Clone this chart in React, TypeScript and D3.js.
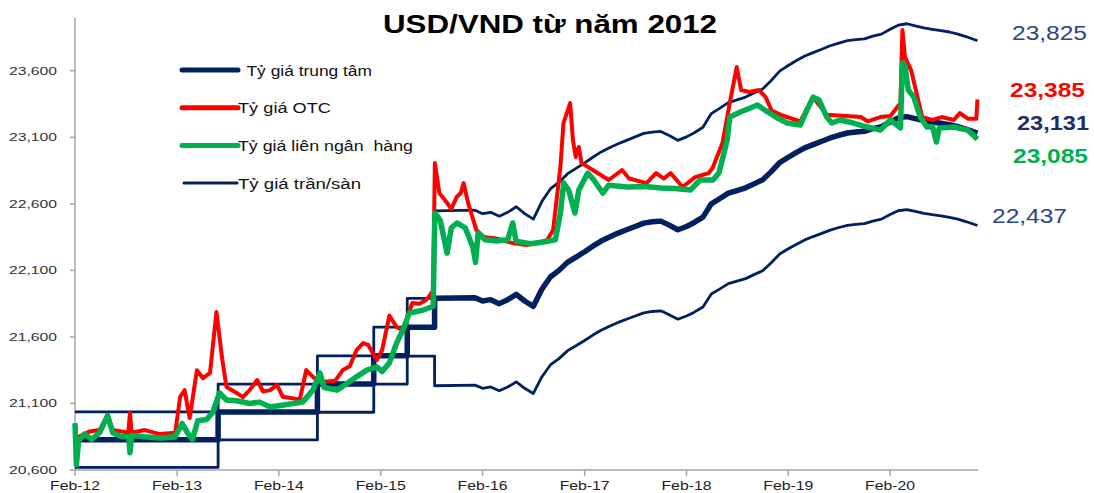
import React from "react";
import * as d3 from "d3";

const W = 1094;
const H = 493;
const parse = d3.timeParse("%Y-%m-%d");

// official rate steps before the daily mechanism (2012 - Aug 2015)
const stepDates = ["2012-02-01", "2013-06-28", "2014-06-19", "2015-01-07", "2015-05-07", "2015-08-13"];
const stepCentral = [20828, 21036, 21246, 21458, 21673, 21890];
const stepCeiling = [21036, 21246, 21458, 21673, 21890, 22547];
const stepFloor = [20620, 20826, 21034, 21246, 21456, 21233];

// daily central rate from 2016 (read roughly month by month)
const dailyDates = [
  "2016-01-05", "2016-02-01", "2016-03-01", "2016-04-01", "2016-05-01", "2016-06-01", "2016-07-01", "2016-08-01",
  "2016-09-01", "2016-10-01", "2016-11-01", "2016-12-01", "2017-01-01", "2017-02-01", "2017-03-01", "2017-04-01",
  "2017-05-01", "2017-06-01", "2017-07-01", "2017-08-01", "2017-09-01", "2017-10-01", "2017-11-01", "2017-12-01",
  "2018-01-01", "2018-02-01", "2018-03-01", "2018-04-01", "2018-05-01", "2018-06-01", "2018-07-01", "2018-08-01",
  "2018-09-01", "2018-10-01", "2018-11-01", "2018-12-01", "2019-01-01", "2019-02-01", "2019-03-01", "2019-04-01",
  "2019-05-01", "2019-06-01", "2019-07-01", "2019-08-01", "2019-09-01", "2019-10-01", "2019-11-01", "2019-12-01",
  "2020-01-01", "2020-02-01", "2020-03-01", "2020-04-01", "2020-05-01", "2020-06-01", "2020-07-01", "2020-08-01",
  "2020-09-01", "2020-10-01", "2020-11-01", "2020-12-10",
];
const dailyCentral = [
  21895, 21870, 21880, 21850, 21880, 21920, 21870, 21830, 21960, 22050, 22100, 22160,
  22200, 22240, 22280, 22320, 22350, 22380, 22405, 22430, 22455, 22465, 22470, 22440,
  22405, 22430, 22460, 22500, 22600, 22640, 22680, 22700, 22720, 22750, 22780, 22840,
  22910, 22950, 22985, 23020, 23045, 23070, 23095, 23115, 23132, 23140, 23145, 23165,
  23180, 23215, 23245, 23255, 23240, 23225, 23215, 23205, 23195, 23180, 23160, 23131,
];
const dailyCeiling = [
  22552, 22526, 22536, 22506, 22536, 22578, 22526, 22485, 22619, 22712, 22763, 22825,
  22866, 22907, 22948, 22990, 23021, 23051, 23077, 23103, 23129, 23139, 23144, 23113,
  23077, 23103, 23134, 23175, 23278, 23319, 23360, 23381, 23402, 23433, 23463, 23525,
  23597, 23639, 23675, 23711, 23736, 23762, 23788, 23808, 23826, 23834, 23839, 23860,
  23875, 23911, 23942, 23953, 23937, 23922, 23911, 23901, 23891, 23875, 23855, 23825,
];
const dailyFloor = [
  21238, 21214, 21224, 21195, 21224, 21262, 21214, 21175, 21301, 21389, 21437, 21495,
  21534, 21573, 21612, 21650, 21680, 21709, 21733, 21757, 21781, 21791, 21796, 21767,
  21733, 21757, 21786, 21825, 21922, 21961, 22000, 22019, 22038, 22068, 22097, 22155,
  22223, 22262, 22295, 22329, 22354, 22378, 22402, 22422, 22438, 22446, 22451, 22470,
  22485, 22519, 22548, 22557, 22543, 22528, 22519, 22509, 22499, 22485, 22465, 22437,
];

// OTC (free market) rate
const otcDates = [
  "2012-02-01", "2012-02-06", "2012-02-14", "2012-03-25", "2012-04-29", "2012-05-28", "2012-06-15", "2012-07-17",
  "2012-08-10", "2012-08-16", "2012-08-22", "2012-10-08", "2012-12-01", "2013-01-25", "2013-02-12", "2013-02-28",
  "2013-03-18", "2013-04-13", "2013-05-05", "2013-05-30", "2013-06-22", "2013-07-03", "2013-07-13", "2013-07-28",
  "2013-08-25", "2013-09-25", "2013-10-19", "2013-11-15", "2013-12-06", "2014-01-01", "2014-01-25", "2014-02-15",
  "2014-04-17", "2014-05-10", "2014-06-03", "2014-06-28", "2014-08-21", "2014-09-18", "2014-10-13", "2014-11-06",
  "2014-11-30", "2014-12-18", "2015-01-18", "2015-02-06", "2015-03-04", "2015-03-30", "2015-04-21", "2015-05-25",
  "2015-06-20", "2015-07-14", "2015-08-08", "2015-08-14", "2015-08-30", "2015-09-27", "2015-10-12", "2015-10-31",
  "2015-11-15", "2015-11-25", "2015-12-12", "2016-01-10", "2016-02-05", "2016-03-21", "2016-05-19", "2016-07-08",
  "2016-08-25", "2016-09-20", "2016-10-11", "2016-11-06", "2016-11-17", "2016-12-11", "2016-12-21", "2016-12-31",
  "2017-01-11", "2017-01-21", "2017-03-02", "2017-04-28", "2017-06-15", "2017-07-10", "2017-09-11", "2017-10-15",
  "2017-11-12", "2017-12-06", "2018-01-18", "2018-03-04", "2018-04-22", "2018-05-07", "2018-06-10", "2018-07-06",
  "2018-07-31", "2018-08-16", "2018-09-14", "2018-10-19", "2018-11-12", "2018-12-03", "2019-01-16", "2019-03-16",
  "2019-05-01", "2019-06-19", "2019-10-19", "2019-11-12", "2019-12-28", "2020-02-02", "2020-03-09", "2020-03-16",
  "2020-03-25", "2020-04-16", "2020-05-06", "2020-05-26", "2020-07-02", "2020-08-04", "2020-09-16", "2020-10-08",
  "2020-11-05", "2020-12-06", "2020-12-10",
];
const otcValues = [
  20950, 20700, 20850, 20890, 20900, 21010, 20900, 20890,
  20880, 21030, 20880, 20900, 20870, 20880, 21150, 21200,
  20990, 21350, 21290, 21330, 21787, 21600, 21430, 21224,
  21190, 21148, 21200, 21276, 21190, 21200, 21240, 21150,
  21130, 21351, 21300, 21260, 21270, 21351, 21380, 21500,
  21554, 21540, 21426, 21500, 21760, 21674, 21650, 21855,
  21850, 21877, 21950, 22906, 22681, 22606, 22560, 22651,
  22681, 22756, 22600, 22403, 22351, 22340, 22305, 22290,
  22310, 22330, 22403, 22876, 23207, 23357, 23079, 22952,
  23027, 22906, 22854, 22779, 22854, 22790, 22756, 22831,
  22790, 22831, 22726, 22801, 22831, 22876, 23057, 23357,
  23628, 23455, 23440, 23455, 23402, 23300, 23260, 23220,
  23400, 23270, 23252, 23220, 23252, 23260, 23357, 23906,
  23703, 23605, 23430, 23252, 23230, 23252, 23230, 23282,
  23240, 23240, 23385,
];

// interbank rate
const ibDates = [
  "2012-02-01", "2012-02-06", "2012-02-14", "2012-03-06", "2012-04-01", "2012-04-29", "2012-05-28", "2012-06-15",
  "2012-07-17", "2012-08-12", "2012-08-16", "2012-08-22", "2012-10-08", "2012-12-01", "2013-01-25", "2013-02-19",
  "2013-03-10", "2013-03-28", "2013-04-16", "2013-05-18", "2013-06-08", "2013-07-03", "2013-07-28", "2013-09-03",
  "2013-10-19", "2013-11-24", "2014-01-01", "2014-02-24", "2014-04-27", "2014-06-03", "2014-06-28", "2014-07-13",
  "2014-08-28", "2014-10-03", "2014-11-06", "2014-12-13", "2015-01-18", "2015-02-06", "2015-03-04", "2015-03-30",
  "2015-04-21", "2015-05-15", "2015-07-01", "2015-08-08", "2015-08-14", "2015-09-02", "2015-09-27", "2015-10-12",
  "2015-11-01", "2015-12-01", "2015-12-28", "2016-01-07", "2016-01-16", "2016-02-10", "2016-03-22", "2016-05-01",
  "2016-05-19", "2016-05-31", "2016-07-20", "2016-09-06", "2016-10-19", "2016-11-06", "2016-11-18", "2016-12-06",
  "2016-12-28", "2017-01-11", "2017-02-12", "2017-03-02", "2017-04-07", "2017-04-28", "2017-07-04", "2017-09-07",
  "2017-11-01", "2017-12-22", "2018-02-15", "2018-03-22", "2018-05-07", "2018-05-28", "2018-06-27", "2018-07-06",
  "2018-08-13", "2018-09-18", "2018-10-13", "2018-11-12", "2018-12-24", "2019-01-28", "2019-03-16", "2019-04-09",
  "2019-05-01", "2019-05-22", "2019-06-19", "2019-07-07", "2019-08-06", "2019-09-22", "2019-11-12", "2019-12-28",
  "2020-02-02", "2020-03-09", "2020-03-16", "2020-03-25", "2020-04-06", "2020-04-26", "2020-05-19", "2020-06-12",
  "2020-07-02", "2020-07-16", "2020-07-26", "2020-09-16", "2020-11-05", "2020-12-10",
];
const ibValues = [
  20950, 20640, 20820, 20870, 20830, 20880, 21010, 20880,
  20850, 20850, 20730, 20860, 20850, 20840, 20850, 20950,
  20880, 20830, 20970, 20980, 21030, 21180, 21126, 21120,
  21100, 21110, 21073, 21090, 21110, 21200, 21330, 21220,
  21200, 21250, 21300, 21350, 21375, 21340, 21405, 21555,
  21650, 21780, 21800, 21830, 22530, 22478, 22230, 22420,
  22456, 22420, 22275, 22160, 22380, 22330, 22320, 22330,
  22456, 22320, 22300, 22313, 22330, 22531, 22756, 22700,
  22531, 22704, 22831, 22790, 22681, 22740, 22726, 22730,
  22719, 22715, 22704, 22779, 22779, 22831, 23079, 23252,
  23290, 23320, 23342, 23300, 23245, 23207, 23192, 23305,
  23402, 23380, 23252, 23207, 23230, 23207, 23177, 23154,
  23230, 23170, 23658, 23640, 23455, 23402, 23252, 23177,
  23180, 23064, 23170, 23177, 23154, 23085,
];

const yTicks = [20600, 21100, 21600, 22100, 22600, 23100, 23600];
const xTicks = ["2012-02-01", "2013-02-01", "2014-02-01", "2015-02-01", "2016-02-01", "2017-02-01", "2018-02-01", "2019-02-01", "2020-02-01"];

const NAVY = "#002060";
const RED = "#FF0000";
const GREEN = "#00B050";
const FONT = "'Liberation Sans', Arial, sans-serif";

const x = d3.scaleTime().domain([parse("2012-02-01"), parse("2020-12-12")]).range([75, 978]);
const y = d3.scaleLinear().domain([20600, 24000]).range([470, 17.5]);

type Pt = [Date, number];

const line = d3
  .line<Pt>()
  .x((d) => x(d[0]))
  .y((d) => y(d[1]));

function withSteps(dates: string[], values: number[], tailDates: string[], tailValues: number[]): Pt[] {
  const pts: Pt[] = [];
  dates.forEach((d, i) => {
    if (i > 0) pts.push([parse(d)!, values[i - 1]]);
    pts.push([parse(d)!, values[i]]);
  });
  tailDates.forEach((d, i) => pts.push([parse(d)!, tailValues[i]]));
  return pts;
}

function series(dates: string[], values: number[]): Pt[] {
  return dates.map((d, i) => [parse(d)!, values[i]]);
}

const fmtX = d3.timeFormat("%b-%y");
const fmtY = d3.format(",");

const legendItems = [
  { label: " Tỷ giá trung tâm", color: NAVY, width: 5, textLen: 130, x0: 182, x1: 238, tx: 242 },
  { label: "Tỷ giá OTC", color: RED, width: 5, textLen: 93, x0: 182, x1: 238, tx: 238 },
  { label: "Tỷ giá liên ngân  hàng", color: GREEN, width: 5, textLen: 175, x0: 182, x1: 238, tx: 238 },
  { label: "Tỷ giá trần/sàn", color: NAVY, width: 3, textLen: 123, x0: 184, x1: 237, tx: 238 },
];

const endLabels = [
  { text: "23,825", color: "#2B4586", bold: false, x: 1012, y: 40, len: 75 },
  { text: "23,385", color: RED, bold: true, x: 1010, y: 97, len: 75 },
  { text: "23,131", color: "#1F2F66", bold: true, x: 1017, y: 130, len: 72 },
  { text: "23,085", color: GREEN, bold: true, x: 1013, y: 163, len: 75 },
  { text: "22,437", color: "#2B4586", bold: false, x: 992, y: 223, len: 75 },
];

export default function App() {
  const central = withSteps(stepDates, stepCentral, dailyDates, dailyCentral);
  const ceiling = withSteps(stepDates, stepCeiling, dailyDates, dailyCeiling);
  const floor = withSteps(stepDates, stepFloor, dailyDates, dailyFloor);
  const otc = series(otcDates, otcValues);
  const ib = series(ibDates, ibValues);

  return (
    <svg width={W} height={H} style={{ position: "absolute", left: 0, top: 0, background: "#fff" }} fontFamily={FONT}>
      <rect width={W} height={H} fill="#fff" />

      {/* title */}
      <text x={550} y={33} textAnchor="middle" fontSize={25} fontWeight="bold" fill="#000" textLength={334} lengthAdjust="spacingAndGlyphs">
        USD/VND từ năm 2012
      </text>

      {/* axes */}
      <line x1={75} x2={75} y1={y(24000)} y2={470} stroke="#A6A6A6" strokeWidth={1.5} />
      <line x1={75} x2={978} y1={470} y2={470} stroke="#A6A6A6" strokeWidth={1.5} />
      {yTicks.map((t) => (
        <g key={t}>
          <line x1={70} x2={75} y1={y(t)} y2={y(t)} stroke="#A6A6A6" strokeWidth={1.5} />
          <text x={57} y={y(t) + 4} textAnchor="end" fontSize={11} fill="#333" textLength={48} lengthAdjust="spacingAndGlyphs">
            {fmtY(t)}
          </text>
        </g>
      ))}
      {xTicks.map((t) => {
        const xx = x(parse(t)!);
        return (
          <g key={t}>
            <line x1={xx} x2={xx} y1={470} y2={476} stroke="#A6A6A6" strokeWidth={1.5} />
            <text x={xx} y={490} textAnchor="middle" fontSize={13} fill="#222" textLength={50} lengthAdjust="spacingAndGlyphs">
              {fmtX(parse(t)!)}
            </text>
          </g>
        );
      })}

      {/* series */}
      <path d={line(ceiling)!} fill="none" stroke={NAVY} strokeWidth={2.8} strokeLinejoin="round" />
      <path d={line(floor)!} fill="none" stroke={NAVY} strokeWidth={2.8} strokeLinejoin="round" />
      <path d={line(central)!} fill="none" stroke={NAVY} strokeWidth={5.5} strokeLinejoin="round" />
      <path d={line(otc)!} fill="none" stroke={RED} strokeWidth={4} strokeLinejoin="round" />
      <path d={line(ib)!} fill="none" stroke={GREEN} strokeWidth={5.5} strokeLinejoin="round" />

      {/* legend */}
      {legendItems.map((it, i) => {
        const ly = 70 + i * 37.7;
        return (
          <g key={it.label}>
            <line x1={it.x0} x2={it.x1} y1={ly} y2={ly} stroke={it.color} strokeWidth={it.width} strokeLinecap="round" />
            <text x={it.tx} y={ly + 5.5} fontSize={14} fill="#111" textLength={it.textLen} lengthAdjust="spacingAndGlyphs" xmlSpace="preserve">
              {it.label}
            </text>
          </g>
        );
      })}

      {/* end values */}
      {endLabels.map((l) => (
        <text key={l.text} x={l.x} y={l.y} fontSize={20} fontWeight={l.bold ? "bold" : "normal"} fill={l.color} textLength={l.len} lengthAdjust="spacingAndGlyphs">
          {l.text}
        </text>
      ))}
    </svg>
  );
}
